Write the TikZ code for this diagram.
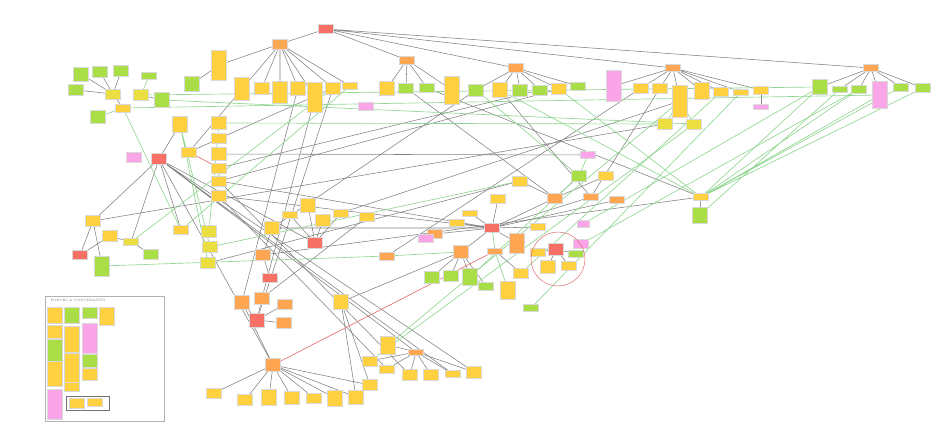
\documentclass[tikz,border=0pt]{standalone}
\usepackage{tikz}
\usetikzlibrary{positioning,backgrounds}
\definecolor{noteyel}{RGB}{255,208,64}
\definecolor{noteolv}{RGB}{234,222,64}
\definecolor{notegrn}{RGB}{170,222,70}
\definecolor{noteorg}{RGB}{255,166,82}
\definecolor{notered}{RGB}{247,112,102}
\definecolor{notepnk}{RGB}{250,165,232}
\definecolor{linkgray}{RGB}{128,128,128}
\definecolor{linkgreen}{RGB}{145,214,145}
\definecolor{linkred}{RGB}{228,110,110}
\tikzset{
  note/.style={rectangle,inner sep=0pt,minimum width=15pt,minimum height=10pt,draw=white!85!black,line width=0.4pt},
  yel/.style={note,fill=noteyel},
  olv/.style={note,fill=noteolv},
  grn/.style={note,fill=notegrn},
  org/.style={note,fill=noteorg},
  red/.style={note,fill=notered},
  pnk/.style={note,fill=notepnk},
  tall/.style={minimum height=#1},
  link/.style={draw=linkgray,line width=0.55pt},
  glink/.style={draw=linkgreen,line width=0.65pt},
  rlink/.style={draw=linkred,line width=0.65pt},
}
\begin{document}
\begin{tikzpicture}[x=1pt,y=-1pt]
  \useasboundingbox (0,0) rectangle (950,444);

  % legend frame
  \draw[black!30,line width=0.5pt] (45,296) rectangle (164,421);
  \draw[black!55,line width=0.4pt] (66,396) rectangle (109,410);
  \node[font=\fontsize{3.2}{4}\selectfont,text=black!55,anchor=west] (lgt) at (47,300) {FORCES \& CONSTRAINTS};

  % top row
  \node[red,tall=9pt] (r0) at (326,29) {};
  \node[org,tall=10pt] (a0) at (280,44) {};
  \node[yel,tall=30pt] (a1) at (219,65) {};
  \node[grn,tall=15pt] (a1g) at (192,84) {};
  \node[yel,tall=23pt] (a2) at (242,89) {};
  \node[yel,tall=12pt] (a3) at (262,88) {};
  \node[yel,tall=22pt] (a4) at (280,92) {};
  \node[yel,tall=14pt] (a5) at (298,88) {};
  \node[yel,tall=30pt] (a6) at (315,97) {};
  \node[yel,tall=12pt] (a7) at (333,88) {};
  \node[yel,tall=7pt] (a8) at (350,86) {};
  \node[org,tall=8pt] (b0) at (407,60) {};
  \node[yel,tall=14pt] (b1) at (387,88) {};
  \node[grn,tall=10pt] (b2) at (406,88) {};
  \node[grn,tall=9pt] (b3) at (427,88) {};
  \node[yel,tall=28pt] (b4) at (452,90) {};
  \node[pnk,tall=8pt] (bp) at (366,106) {};
  \node[org,tall=9pt] (c0) at (516,68) {};
  \node[grn,tall=12pt] (c1) at (476,90) {};
  \node[yel,tall=15pt] (c2) at (500,90) {};
  \node[grn,tall=12pt] (c3) at (520,90) {};
  \node[grn,tall=10pt] (c4) at (540,90) {};
  \node[yel,tall=11pt] (c5) at (559,89) {};
  \node[grn,tall=8pt] (c6) at (578,86) {};
  \node[pnk,tall=31pt] (dp) at (614,86) {};
  \node[org,tall=7pt] (d0) at (673,68) {};
  \node[yel,tall=10pt] (d1) at (641,88) {};
  \node[yel,tall=10pt] (d2) at (660,88) {};
  \node[yel,tall=32pt] (d3) at (680,101) {};
  \node[yel,tall=17pt] (d4) at (702,91) {};
  \node[yel,tall=9pt] (d5) at (721,92) {};
  \node[yel,tall=6pt] (d6) at (741,92) {};
  \node[yel,tall=8pt] (d7) at (761,90) {};
  \node[pnk,tall=5pt] (d8) at (761,107) {};
  \node[olv,tall=11pt] (dy1) at (665,124) {};
  \node[olv,tall=10pt] (dy2) at (694,124) {};
  \node[org,tall=7pt] (e0) at (871,68) {};
  \node[grn,tall=15pt] (e1) at (820,87) {};
  \node[grn,tall=6pt] (e2) at (840,89) {};
  \node[grn,tall=8pt] (e3) at (859,89) {};
  \node[pnk,tall=27pt] (e4) at (880,95) {};
  \node[grn,tall=8pt] (e5) at (901,87) {};
  \node[grn,tall=9pt] (e6) at (923,88) {};
  \node[yel,tall=7pt] (s0) at (701,197) {};
  \node[grn,tall=16pt] (s1) at (700,215) {};

  % left group
  \node[olv,tall=10pt] (l0) at (113,94) {};
  \node[grn,tall=14pt] (l1g) at (81,74) {};
  \node[grn,tall=11pt] (l2g) at (100,72) {};
  \node[grn,tall=11pt] (l3g) at (121,71) {};
  \node[grn,tall=11pt] (l4g) at (76,90) {};
  \node[yel,tall=8pt] (l1) at (123,108) {};
  \node[grn,tall=13pt] (l5g) at (98,117) {};
  \node[olv,tall=11pt] (l2) at (141,95) {};
  \node[grn,tall=7pt] (l7g) at (149,76) {};
  \node[grn,tall=15pt] (l6g) at (162,100) {};

  % column
  \node[yel,tall=16pt] (k0) at (180,124) {};
  \node[yel,tall=13pt] (k1) at (219,123) {};
  \node[yel,tall=10pt] (k2) at (219,138) {};
  \node[yel,tall=13pt] (k3) at (219,154) {};
  \node[yel,tall=10pt] (k4) at (219,168) {};
  \node[yel,tall=10pt] (k5) at (219,181) {};
  \node[yel,tall=11pt] (k6) at (219,196) {};
  \node[yel,tall=10pt] (k7) at (189,152) {};
  \node[red,tall=11pt] (h0) at (159,159) {};
  \node[pnk,tall=10pt] (hp) at (134,157) {};

  % middle left
  \node[yel,tall=11pt] (m1) at (93,221) {};
  \node[yel,tall=11pt] (m2) at (110,236) {};
  \node[olv,tall=7pt] (m3) at (131,242) {};
  \node[grn,tall=10pt] (m4) at (151,254) {};
  \node[red,tall=9pt] (m5) at (80,255) {};
  \node[grn,tall=20pt] (m6) at (102,266) {};
  \node[yel,tall=9pt] (m7) at (181,230) {};
  \node[olv,tall=12pt] (m8) at (209,231) {};
  \node[olv,tall=11pt] (m9) at (210,247) {};
  \node[olv,tall=11pt] (m10) at (208,263) {};
  \node[yel,tall=13pt] (n1) at (272,228) {};
  \node[org,tall=11pt] (n2) at (263,255) {};
  \node[red,tall=9pt] (n3) at (270,278) {};
  \node[yel,tall=14pt] (n4) at (308,205) {};
  \node[yel,tall=7pt] (n5) at (290,215) {};
  \node[yel,tall=12pt] (n6) at (323,220) {};
  \node[yel,tall=8pt] (n7) at (341,213) {};
  \node[yel,tall=9pt] (n8) at (367,217) {};
  \node[red,tall=11pt] (n9) at (315,243) {};
  \node[org,tall=8pt] (n10) at (387,256) {};

  % centre
  \node[pnk,tall=7pt] (q0) at (588,155) {};
  \node[grn,tall=11pt] (q1) at (579,176) {};
  \node[yel,tall=9pt] (q2) at (606,176) {};
  \node[yel,tall=10pt] (q3) at (520,181) {};
  \node[yel,tall=9pt] (q4) at (498,199) {};
  \node[org,tall=10pt] (q5) at (555,198) {};
  \node[org,tall=7pt] (q6) at (591,197) {};
  \node[org,tall=7pt] (q7) at (617,200) {};
  \node[yel,tall=6pt] (q8) at (470,213) {};
  \node[yel,tall=7pt] (q9) at (457,223) {};
  \node[red,tall=9pt] (h1) at (492,228) {};
  \node[yel,tall=7pt] (q10) at (538,227) {};
  \node[org,tall=9pt] (q11) at (435,234) {};
  \node[pnk,tall=8pt] (q12) at (426,238) {};
  \node[org,tall=20pt] (q13) at (517,243) {};
  \node[pnk,tall=7pt,minimum width=12pt] (q14) at (583,224) {};
  \node[org,tall=13pt] (q15) at (461,252) {};
  \node[org,tall=6pt] (q16) at (495,251) {};
  \node[yel,tall=8pt] (q17) at (538,252) {};
  \node[red,tall=12pt] (h2) at (556,249) {};
  \node[pnk,tall=9pt] (q18) at (581,244) {};
  \node[grn,tall=7pt] (q19) at (576,254) {};
  \node[yel,tall=13pt] (q20) at (548,267) {};
  \node[yel,tall=9pt] (q21) at (569,266) {};
  \node[grn,tall=12pt] (g1) at (432,277) {};
  \node[grn,tall=11pt] (g2) at (451,276) {};
  \node[grn,tall=17pt] (g3) at (470,277) {};
  \node[grn,tall=8pt] (g4) at (486,286) {};
  \node[yel,tall=10pt] (q22) at (521,273) {};
  \node[yel,tall=18pt] (q23) at (508,290) {};
  \node[grn,tall=7pt] (q24) at (531,308) {};
  \draw[linkred,line width=0.5pt] (558,259) circle (27);

  % bottom
  \node[org,tall=14pt] (p1) at (242,302) {};
  \node[org,tall=12pt] (p2) at (262,298) {};
  \node[org,tall=10pt] (p3) at (285,304) {};
  \node[red,tall=14pt] (p4) at (257,320) {};
  \node[org,tall=11pt] (p5) at (284,323) {};
  \node[yel,tall=15pt] (p6) at (341,302) {};
  \node[org,tall=13pt] (t0) at (273,365) {};
  \node[yel,tall=10pt] (t1) at (214,393) {};
  \node[yel,tall=11pt] (t2) at (245,400) {};
  \node[yel,tall=16pt] (t3) at (269,397) {};
  \node[yel,tall=13pt] (t4) at (292,398) {};
  \node[yel,tall=10pt] (t5) at (314,398) {};
  \node[yel,tall=16pt] (t6) at (335,398) {};
  \node[yel,tall=14pt] (t7) at (356,397) {};
  \node[yel,tall=11pt] (t8) at (370,385) {};
  \node[org,tall=6pt] (u0) at (416,352) {};
  \node[yel,tall=18pt] (u1) at (388,345) {};
  \node[yel,tall=10pt] (u2) at (370,361) {};
  \node[yel,tall=8pt] (u3) at (387,369) {};
  \node[yel,tall=11pt] (u4) at (410,375) {};
  \node[yel,tall=11pt] (u5) at (431,375) {};
  \node[yel,tall=7pt] (u6) at (453,374) {};
  \node[yel,tall=12pt] (u7) at (474,372) {};

  % legend notes
  \node[yel,tall=16pt] (lg1) at (55,315) {};
  \node[grn,tall=16pt] (lg2) at (72,315) {};
  \node[grn,tall=11pt] (lg3) at (90,313) {};
  \node[yel,tall=18pt] (lg4) at (107,316) {};
  \node[yel,tall=13pt] (lg5) at (55,332) {};
  \node[yel,tall=26pt] (lg6) at (72,339) {};
  \node[pnk,tall=30pt] (lg7) at (90,338) {};
  \node[grn,tall=22pt] (lg8) at (55,350) {};
  \node[yel,tall=25pt] (lg9) at (55,374) {};
  \node[yel,tall=29pt] (lg10) at (72,368) {};
  \node[grn,tall=13pt] (lg11) at (90,361) {};
  \node[yel,tall=12pt] (lg12) at (90,374) {};
  \node[yel,tall=9pt] (lg13) at (72,387) {};
  \node[pnk,tall=30pt] (lg14) at (55,404) {};
  \node[yel,tall=10pt] (lg15) at (77,403) {};
  \node[yel,tall=8pt] (lg16) at (95,402) {};

  \begin{scope}[on background layer]
    % trees
    \draw[link] (r0) -- (a0) (r0) -- (b0) (r0) -- (c0) (r0) -- (d0) (r0) -- (e0);
    \draw[link] (a0) -- (a1) (a0) -- (a2) (a0) -- (a3) (a0) -- (a4) (a0) -- (a5) (a0) -- (a6) (a0) -- (a7) (a0) -- (a8);
    \draw[link] (a1) -- (a1g);
    \draw[link] (b0) -- (b1) (b0) -- (b2) (b0) -- (b3) (b0) -- (b4);
    \draw[link] (c0) -- (c1) (c0) -- (c2) (c0) -- (c3) (c0) -- (c4) (c0) -- (c5) (c0) -- (c6);
    \draw[link] (d0) -- (dp) (d0) -- (d1) (d0) -- (d2) (d0) -- (d3) (d0) -- (d4) (d0) -- (d5) (d0) -- (d6) (d0) -- (d7);
    \draw[link] (d7) -- (d8);
    \draw[link] (e0) -- (e1) (e0) -- (e2) (e0) -- (e3) (e0) -- (e4) (e0) -- (e5) (e0) -- (e6);
    \draw[link] (l0) -- (l1g) (l0) -- (l2g) (l0) -- (l3g) (l0) -- (l4g) (l0) -- (l1);
    \draw[link] (l2) -- (l6g);
    \draw[link] (s0) -- (s1);
    % left hub
    \draw[link] (m1) -- (m5) (m1) -- (m6) (m2) -- (m5) (m2) -- (m3) (m3) -- (m4);
    \draw[link] (h0) -- (k0) (h0) -- (m1) (h0) -- (m3) (h0) -- (m7) (h0) -- (t0) (h0) -- (u0) (h0) -- (u6) (h0) -- (u7) (h0) -- (n9);
    \draw[link] (a2) -- (k7) (k7) -- (a7);
    \draw[link] (k3) -- (q0);
    \draw[link] (m1) -- (dy1);
    % centre hub
    \draw[link] (h1) -- (q8) (h1) -- (q9) (h1) -- (q4) (h1) -- (q5) (h1) -- (q11) (h1) -- (q10) (h1) -- (q13) (h1) -- (q15) (h1) -- (q6) (h1) -- (q7);
    \draw[link] (h1) -- (k5) (h1) -- (k6) (h1) -- (n1);
    \draw[link] (q15) -- (g1) (q15) -- (g2) (q15) -- (g3) (q15) -- (g4) (q15) -- (p6);
    \draw[link] (q16) -- (q22);
    \draw[link] (h2) -- (q17) (h2) -- (q20) (h2) -- (q21) (h2) -- (q19);
    \draw[link] (q3) -- (q5) (q1) -- (q5) (q2) -- (q5);
    \draw[link] (b2) -- (q5) (c2) -- (q6);
    \draw[link] (n9) -- (n5) (n9) -- (n4) (n9) -- (n6) (n9) -- (n7);
    \draw[link] (n2) -- (n3) (n1) -- (n2);
    % bottom
    \draw[link] (p4) -- (p1) (p4) -- (p2) (p4) -- (p3) (p4) -- (p5);
    \draw[link] (p1) -- (t0);
    \draw[link] (a5) -- (p1) (a6) -- (p2) (a7) -- (p4);
    \draw[link] (p2) -- (n8);
    \draw[link] (t0) -- (t1) (t0) -- (t2) (t0) -- (t3) (t0) -- (t4) (t0) -- (t5) (t0) -- (t6) (t0) -- (t7) (t0) -- (t8);
    \draw[link] (u0) -- (u1) (u0) -- (u2) (u0) -- (u3) (u0) -- (u4) (u0) -- (u5) (u0) -- (u6) (u0) -- (u7);
    \draw[link] (p6) -- (t7) (p6) -- (t8);
    \draw[link] (k6) -- (u3) (k5) -- (u4);
    % long ones
    \draw[link] (k4) -- (c4) (k5) -- (c5) (n1) -- (c1);
    \draw[link] (d3) -- (n7) (d2) -- (q6) (d1) -- (n10);
    \draw[link] (b3) -- (s0) (n2) -- (s0);
    \draw[link] (m10) -- (q3);

    % green links
    \draw[glink] (l1) -- (l5g) (l2) -- (l7g);
    \draw[glink] (d3) -- (dy1) (d3) -- (dy2);
    \draw[glink] (l1) -- (m7) (k0) -- (m10) (k0) -- (m9) (k1) -- (m8);
    \draw[glink] (m7) -- (a8) (m3) -- (a7);
    \draw[glink] (l1) -- (e4) (l2) -- (e1) (l6g) -- (dy2) (k1) -- (dy1);
    \draw[glink] (m6) -- (n10) (n10) -- (q15) (h1) -- (q16);
    \draw[glink] (m9) -- (q3);
    \draw[glink] (c1) -- (q1) (g3) -- (q1) (q1) -- (q0);
    \draw[glink] (q16) -- (q23);
    \draw[glink] (u2) -- (dy2) (u1) -- (d3);
    \draw[glink] (d5) -- (q22) (d6) -- (q24);
    \draw[glink] (c5) -- (s0) (c2) -- (s0);
    \draw[glink] (e1) -- (s0) (e3) -- (s0) (e4) -- (s0) (e5) -- (s0) (e6) -- (s0) (e2) -- (s1);
    \draw[glink] (e1) -- (q14) (e3) -- (q18);

    % red links
    \draw[rlink] (k7) -- (k4);
    \draw[rlink] (q16) -- (t0);
  \end{scope}
\end{tikzpicture}
\end{document}
